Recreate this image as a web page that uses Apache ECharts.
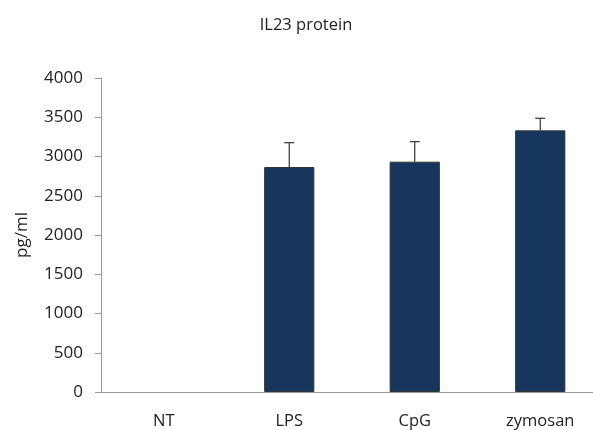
<!DOCTYPE html>
<html>
<head>
<meta charset="utf-8">
<script src="https://cdn.jsdelivr.net/npm/echarts@6/dist/echarts.min.js"></script>
<style>html,body{margin:0;padding:0;background:#fff}#c{width:593px;height:430px}</style>
</head>
<body>
<div id="c"></div>
<script>
// IL23 protein levels by stimulus
const categories = ['NT', 'LPS', 'CpG', 'zymosan'];
const means = [0, 2866, 2934, 3333];
const errors = [0, 310, 255, 154];
const yTicks = [0, 500, 1000, 1500, 2000, 2500, 3000, 3500, 4000];

const FONT = '"Open Sans", sans-serif';
const chart = echarts.init(document.getElementById('c'));
chart.setOption({
  animation: false,
  title: {
    text: 'IL23 protein',
    left: 301, top: 12, textAlign: 'center',
    textStyle: { fontFamily: FONT, fontWeight: 'normal', fontSize: 16.5, color: '#222' }
  },
  grid: { left: 101, top: 78, width: 502, height: 314, outerBoundsMode: 'none', containLabel: false },
  xAxis: {
    type: 'category',
    data: categories,
    axisLine: { lineStyle: { color: '#999' } },
    axisTick: { length: 6, lineStyle: { color: '#999' } },
    axisLabel: { fontFamily: FONT, fontSize: 16.5, color: '#222', margin: 21 }
  },
  yAxis: {
    type: 'value',
    min: yTicks[0], max: yTicks[yTicks.length - 1], interval: 500,
    name: 'pg/ml', nameLocation: 'middle', nameGap: 70,
    nameTextStyle: { fontFamily: FONT, fontSize: 17, color: '#222' },
    axisLine: { show: true, lineStyle: { color: '#999' } },
    axisTick: { show: true, length: 6, lineStyle: { color: '#999' } },
    splitLine: { show: false },
    axisLabel: {
      fontFamily: FONT, fontSize: 17, color: '#222', margin: 18,
      formatter: v => String(v)
    }
  },
  series: [
    {
      type: 'bar',
      data: means.map(v => ({ value: v, itemStyle: v === 0 ? { borderWidth: 0 } : {} })),
      barWidth: '40%',
      itemStyle: { color: '#17365d', borderColor: '#333', borderWidth: 1 }
    },
    {
      type: 'custom',
      data: means.map((m, i) => [i, m, m + errors[i]]),
      z: 1,
      renderItem: function (params, api) {
        if (api.value(2) === api.value(1)) return null;
        const base = api.coord([api.value(0), api.value(1)]);
        const top = api.coord([api.value(0), api.value(2)]);
        const style = { stroke: '#333', lineWidth: 1.2 };
        return {
          type: 'group',
          children: [
            { type: 'line', shape: { x1: base[0], y1: base[1], x2: top[0], y2: top[1] }, style },
            { type: 'line', shape: { x1: top[0] - 5, y1: top[1], x2: top[0] + 5, y2: top[1] }, style }
          ]
        };
      }
    }
  ]
});
</script>
</body>
</html>
